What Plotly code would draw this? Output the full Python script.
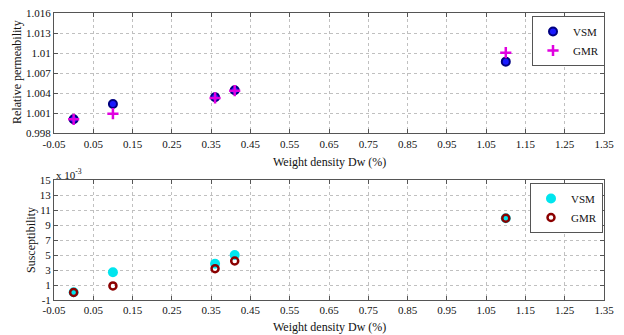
import plotly.graph_objects as go

# ---- data ----
weight_density = [0.0, 0.10, 0.36, 0.41, 1.10]
perm_vsm = [1.0001, 1.0024, 1.0034, 1.00445, 1.00875]
perm_gmr = [1.0001, 1.00094, 1.0033, 1.0044, 1.0101]
susc_vsm = [0.03, 2.7, 3.84, 5.0, 9.9]      # x 10^-3
susc_gmr = [0.0, 0.87, 3.18, 4.2, 9.9]      # x 10^-3

x_ticks = [-0.05, 0.05, 0.15, 0.25, 0.35, 0.45, 0.55, 0.65, 0.75, 0.85, 0.95, 1.05, 1.15, 1.25, 1.35]
x_tick_text = ["-0.05", "0.05", "0.15", "0.25", "0.35", "0.45", "0.55", "0.65", "0.75",
               "0.85", "0.95", "1.05", "1.15", "1.25", "1.35"]
perm_ticks = [0.998, 1.001, 1.004, 1.007, 1.010, 1.013, 1.016]
perm_tick_text = ["0.998", "1.001", "1.004", "1.007", "1.01", "1.013", "1.016"]
susc_ticks = [-1, 1, 3, 5, 7, 9, 11, 13, 15]
susc_tick_text = ["-1", "1", "3", "5", "7", "9", "11", "13", "15"]

W, H = 624, 335
FONT = "Liberation Serif"
TXT = "#111111"

fig = go.Figure()

fig.add_trace(go.Scatter(x=weight_density, y=perm_vsm, mode="markers", name="VSM",
                         marker=dict(symbol="circle", size=8, color="#1a1aff",
                                     line=dict(color="#000080", width=2)),
                         xaxis="x", yaxis="y", legend="legend"))
fig.add_trace(go.Scatter(x=weight_density, y=perm_gmr, mode="markers", name="GMR",
                         marker=dict(symbol="cross-thin", size=8, color="#e000e0",
                                     line=dict(color="#e000e0", width=2.5)),
                         xaxis="x", yaxis="y", legend="legend"))
fig.add_trace(go.Scatter(x=weight_density, y=susc_vsm, mode="markers", name="VSM",
                         marker=dict(symbol="circle", size=10, color="#00e5ee",
                                     line=dict(color="#00e5ee", width=0)),
                         xaxis="x2", yaxis="y2", legend="legend2"))
fig.add_trace(go.Scatter(x=weight_density, y=susc_gmr, mode="markers", name="GMR",
                         marker=dict(symbol="circle-open", size=7, color="#8b0000",
                                     line=dict(color="#8b0000", width=2.5)),
                         xaxis="x2", yaxis="y2", legend="legend2"))

xdom = [54 / W, 604 / W]
top_dom = [1 - 133.3 / H, 1 - 13.3 / H]
bot_dom = [1 - 300 / H, 1 - 180 / H]

axis_common = dict(showline=True, linecolor="#555555", linewidth=1, mirror="ticks",
                   ticks="inside", ticklen=4, tickcolor="#555555",
                   showgrid=True, gridcolor="#c0c0c0", griddash="dot", gridwidth=1,
                   zeroline=False, automargin=False,
                   tickfont=dict(family=FONT, size=11, color=TXT))

fig.update_layout(
    width=W, height=H,
    margin=dict(l=0, r=0, t=0, b=0),
    paper_bgcolor="white", plot_bgcolor="white",
    font=dict(family=FONT, size=11, color=TXT),
    xaxis=dict(domain=xdom, anchor="y", range=[-0.05, 1.35], tickvals=x_ticks,
               ticktext=x_tick_text, **axis_common),
    yaxis=dict(domain=top_dom, anchor="x", range=[0.998, 1.016], tickvals=perm_ticks,
               ticktext=perm_tick_text, **axis_common),
    xaxis2=dict(domain=xdom, anchor="y2", range=[-0.05, 1.35], tickvals=x_ticks,
                ticktext=x_tick_text, **axis_common),
    yaxis2=dict(domain=bot_dom, anchor="x2", range=[-1, 15], tickvals=susc_ticks,
                ticktext=susc_tick_text, **axis_common),
    legend=dict(x=605 / W, y=1 - 16 / H, xanchor="right", yanchor="top",
                bgcolor="white", bordercolor="#555555", borderwidth=1,
                font=dict(family=FONT, size=11, color=TXT),
                tracegroupgap=0, itemwidth=30),
    legend2=dict(x=603 / W, y=1 - 183 / H, xanchor="right", yanchor="top",
                 bgcolor="white", bordercolor="#555555", borderwidth=1,
                 font=dict(family=FONT, size=11, color=TXT),
                 tracegroupgap=0, itemwidth=30),
    showlegend=True,
)

annos = [
    dict(text="Weight density Dw (%)", x=329 / W, y=1 - 162 / H),
    dict(text="Weight density Dw (%)", x=329 / W, y=1 - 327 / H),
    dict(text="Relative permeability", x=17 / W, y=1 - 72 / H, textangle=-90),
    dict(text="Susceptibility", x=31 / W, y=1 - 240 / H, textangle=-90),
]
for a in annos:
    fig.add_annotation(xref="paper", yref="paper", xanchor="center", yanchor="middle",
                       showarrow=False, font=dict(family=FONT, size=12, color=TXT), **a)
fig.add_annotation(xref="paper", yref="paper", x=54 / W, y=1 - 174 / H,
                   xanchor="left", yanchor="middle", showarrow=False,
                   text="x 10<sup>-3</sup>", font=dict(family=FONT, size=11, color=TXT))

fig.write_html("out.html", config={"displayModeBar": False},
               post_script="document.body.style.margin='0';document.body.style.padding='0';")
